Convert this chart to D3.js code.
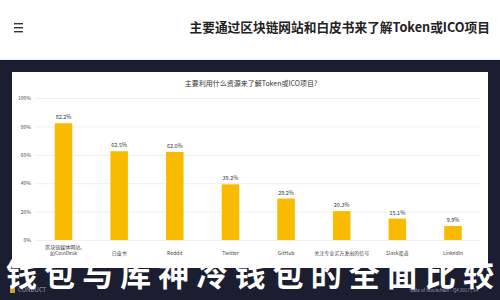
<!DOCTYPE html>
<html>
<head>
<meta charset="utf-8">
<script src="https://cdn.jsdelivr.net/npm/d3@7"></script>
<style>
  html, body { margin: 0; padding: 0; background: #ffffff; }
  svg { display: block; }
</style>
</head>
<body>
<div id="chart"></div>
<script>
// datos
const categorias = [
  ["区块链媒体网站,", "如CoinDesk"],
  ["白皮书"],
  ["Reddit"],
  ["Twitter"],
  ["GitHub"],
  ["关注专业买方发出的信号"],
  ["Slack渠道"],
  ["LinkedIn"],
];
const valores = [82.2, 62.5, 62.0, 39.2, 29.2, 20.3, 15.1, 9.9];
const ticksY = [0, 20, 40, 60, 80, 100];

const cabecera = "主要通过区块链网站和白皮书来了解Token或ICO项目";
const tituloGrafico = "主要利用什么资源来了解Token或ICO项目?";
const pieTexto = "钱包与库神冷钱包的全面比较";
const fuente = "State of Blockchain - Q4 2017  |  14";

const width = 500;
const height = 300;
const fontFamily = "'Noto Sans CJK SC', 'Noto Sans', sans-serif";

const svg = d3
  .select("#chart")
  .append("svg")
  .attr("width", width)
  .attr("height", height)
  .attr("viewBox", `0 0 ${width} ${height}`)
  .style("font-family", fontFamily);

// cabecera blanca
svg.append("rect").attr("width", width).attr("height", 60).attr("fill", "#ffffff");
svg.append("line")
  .attr("x1", 0).attr("x2", width)
  .attr("y1", 59.5).attr("y2", 59.5)
  .attr("stroke", "#e6e8ee");

// icono menú
[-4, 0, 4].forEach((dy) => {
  svg.append("rect")
    .attr("x", 14).attr("y", 27 + dy)
    .attr("width", 9).attr("height", 1.4)
    .attr("fill", "#333");
});

svg.append("text")
  .attr("x", 490)
  .attr("y", 32)
  .attr("text-anchor", "end")
  .attr("font-size", 12.7)
  .attr("font-weight", "700")
  .attr("fill", "#222")
  .text(cabecera);

// fondo oscuro
svg.append("rect")
  .attr("x", 0).attr("y", 60)
  .attr("width", width).attr("height", height - 60)
  .attr("fill", "#1b1e30");

// tarjeta
const card = { x: 12, y: 72, w: 476, h: 196 };
svg.append("rect")
  .attr("x", card.x).attr("y", card.y)
  .attr("width", card.w).attr("height", card.h)
  .attr("fill", "#ffffff");

svg.append("text")
  .attr("x", 251)
  .attr("y", 86)
  .attr("text-anchor", "middle")
  .attr("font-size", 7)
  .attr("fill", "#333")
  .text(tituloGrafico);

// escalas
const x = d3
  .scaleBand()
  .domain(d3.range(categorias.length))
  .range([35.7, 480.8])
  .paddingInner(0.685)
  .paddingOuter(0.3425);

const y = d3.scaleLinear().domain([0, 100]).range([240, 98]);

// rejilla
svg.append("g")
  .selectAll("line")
  .data(ticksY)
  .join("line")
  .attr("x1", 35).attr("x2", 481)
  .attr("y1", (d) => y(d) + 0.5).attr("y2", (d) => y(d) + 0.5)
  .attr("stroke", "#ececec")
  .attr("stroke-width", 0.8);

// eje y
const ejeY = d3.axisLeft(y)
  .tickValues(ticksY)
  .tickSize(0)
  .tickPadding(4)
  .tickFormat((d) => d + "%");

svg.append("g")
  .attr("transform", "translate(31,0)")
  .call(ejeY)
  .call((g) => g.select(".domain").remove())
  .selectAll("text")
  .attr("font-family", fontFamily)
  .attr("font-size", 5)
  .attr("fill", "#444")
  .attr("text-anchor", "end")
  .attr("x", 0);

// barras
svg.append("g")
  .selectAll("rect")
  .data(valores)
  .join("rect")
  .attr("x", (d, i) => x(i))
  .attr("y", (d) => y(d))
  .attr("width", x.bandwidth())
  .attr("height", (d) => y(0) - y(d))
  .attr("fill", "#f8bb00");

// etiquetas de valor
svg.append("g")
  .selectAll("text")
  .data(valores)
  .join("text")
  .attr("x", (d, i) => x(i) + x.bandwidth() / 2)
  .attr("y", (d) => y(d) - 4)
  .attr("text-anchor", "middle")
  .attr("font-size", 5.5)
  .attr("fill", "#333")
  .text((d) => d.toFixed(1) + "%");

// etiquetas de categoría
const gCat = svg.append("g");
categorias.forEach((lineas, i) => {
  const cx = x(i) + x.bandwidth() / 2;
  const t = gCat.append("text")
    .attr("x", cx)
    .attr("y", lineas.length > 1 ? 249 : 255)
    .attr("text-anchor", "middle")
    .attr("font-size", 5)
    .attr("fill", "#444");
  lineas.forEach((l, j) => {
    t.append("tspan")
      .attr("x", cx)
      .attr("dy", j === 0 ? 0 : 5.5)
      .text(l);
  });
});

// pie: logo y fuente
svg.append("rect")
  .attr("x", 10).attr("y", 285)
  .attr("width", 5).attr("height", 8)
  .attr("fill", "#c9a227");
svg.append("text")
  .attr("x", 18).attr("y", 292)
  .attr("font-size", 6)
  .attr("fill", "#9aa0b0")
  .text("CONDUCT");
svg.append("text")
  .attr("x", 478).attr("y", 292)
  .attr("text-anchor", "end")
  .attr("font-size", 4.5)
  .attr("fill", "#9aa0b0")
  .text(fuente);

// texto grande superpuesto
svg.append("text")
  .attr("x", 6)
  .attr("y", 286)
  .attr("font-size", 31)
  .attr("font-weight", "700")
  .attr("fill", "#ffffff")
  .attr("textLength", 488)
  .attr("lengthAdjust", "spacing")
  .text(pieTexto);
</script>
</body>
</html>
